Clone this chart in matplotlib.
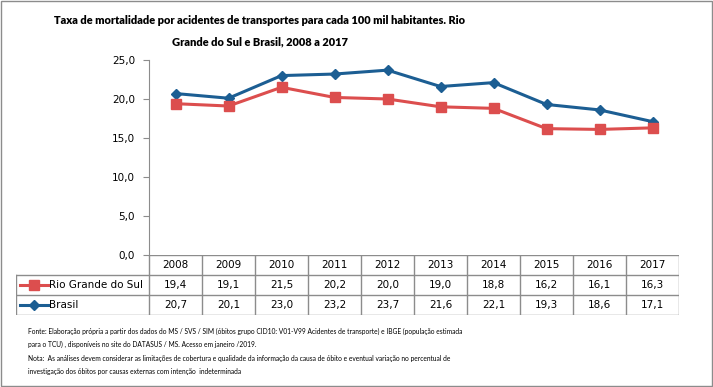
import matplotlib.pyplot as plt
from matplotlib.patches import Rectangle

# data
years = ['2008', '2009', '2010', '2011', '2012', '2013', '2014', '2015', '2016', '2017']
rs = [19.4, 19.1, 21.5, 20.2, 20.0, 19.0, 18.8, 16.2, 16.1, 16.3]
brasil = [20.7, 20.1, 23.0, 23.2, 23.7, 21.6, 22.1, 19.3, 18.6, 17.1]
series_names = ['Rio Grande do Sul', 'Brasil']
yticks = [0, 5, 10, 15, 20, 25]

red = '#DC4E4E'
blue = '#1C5E93'
grid_c = '#8C8C8C'

W, H = 713, 387
fig = plt.figure(figsize=(W / 100, H / 100), dpi=100)

def fx(px):
    return px / W

def fy(px):
    return 1 - px / H

# plot area
left, right, top, bottom = 149, 679, 60, 255
ax = fig.add_axes([fx(left), fy(bottom), fx(right - left), fy(top) - fy(bottom)])
xs = list(range(len(years)))
ax.plot(xs, brasil, color=blue, lw=2.2, marker='D', ms=5.5, zorder=3)
ax.plot(xs, rs, color=red, lw=2.2, marker='s', ms=7, zorder=3)
ax.set_xlim(-0.5, len(years) - 0.5)
ax.set_ylim(0, 25)
ax.set_yticks(yticks)
ax.set_yticklabels([f'{v:.1f}'.replace('.', ',') for v in yticks], fontsize=7.5)
ax.set_xticks([])
for s in ['top', 'right', 'bottom']:
    ax.spines[s].set_visible(False)
ax.spines['left'].set_color(grid_c)
ax.tick_params(axis='y', length=4, color=grid_c, pad=6)

# data table
tab_left, tab_bottom = 16, 315
col_w = (right - left) / len(years)
label_units = (left - tab_left) / col_w
tax = fig.add_axes([fx(tab_left), fy(tab_bottom), fx(right - tab_left), fy(bottom) - fy(tab_bottom)])
tax.set_xlim(-0.5 - label_units, len(years) - 0.5)
tax.set_ylim(0, 3)
tax.axis('off')
lc = dict(color=grid_c, lw=1)
x0 = -0.5 - label_units
x1 = len(years) - 0.5
tax.plot([-0.5, x1], [3, 3], **lc)
for yv in [2, 1, 0]:
    tax.plot([x0, x1], [yv, yv], **lc)
for i in range(len(years) + 1):
    tax.plot([i - 0.5, i - 0.5], [0, 3], **lc)
tax.plot([x0, x0], [0, 2], **lc)

for i, yr in enumerate(years):
    tax.text(i, 2.5, yr, ha='center', va='center', fontsize=7.5)
    tax.text(i, 1.5, f'{rs[i]:.1f}'.replace('.', ','), ha='center', va='center', fontsize=7.5)
    tax.text(i, 0.5, f'{brasil[i]:.1f}'.replace('.', ','), ha='center', va='center', fontsize=7.5)

for yv, name, c, m, ms in [(1.5, series_names[0], red, 's', 7), (0.5, series_names[1], blue, 'D', 5)]:
    tax.plot([x0 + 0.08, x0 + 0.6], [yv, yv], color=c, lw=2.2)
    tax.plot([x0 + 0.34], [yv], color=c, marker=m, ms=ms)
    tax.text(x0 + 0.62, yv, name, ha='left', va='center', fontsize=7.5)

# title
fig.text(fx(260), fy(21), 'Taxa de mortalidade por acidentes de transportes para cada 100 mil habitantes. Rio',
         ha='center', va='center', fontsize=7.9, fontweight='heavy', family='Lato')
fig.text(fx(260), fy(42), 'Grande do Sul e Brasil, 2008 a 2017',
         ha='center', va='center', fontsize=7.9, fontweight='heavy', family='Lato')

# footnote
notes = [
    'Fonte: Elaboração própria a partir dos dados do MS / SVS / SIM (óbitos grupo CID10: V01-V99 Acidentes de transporte) e IBGE (população estimada',
    'para o TCU) , disponíveis no site do DATASUS / MS. Acesso em janeiro /2019.',
    'Nota:  As análises devem considerar as limitações de cobertura e qualidade da informação da causa de óbito e eventual variação no percentual de',
    'investigação dos óbitos por causas externas com intenção  indeterminada',
]
for k, line in enumerate(notes):
    fig.text(fx(28), fy(331 + 13.5 * k), line, ha='left', va='center', fontsize=4.8, family='Lato')

# border
fig.add_artist(Rectangle((0.001, 0.002), 0.997, 0.995, transform=fig.transFigure,
                         fill=False, edgecolor=grid_c, lw=1))

fig.savefig('out.png', dpi=100)
